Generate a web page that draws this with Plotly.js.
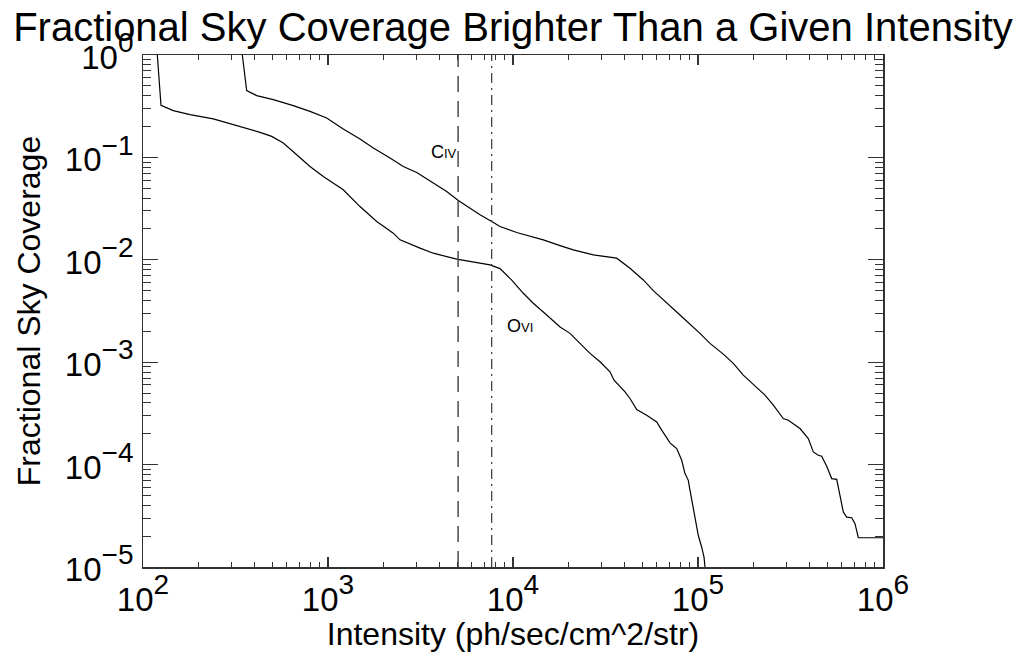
<!DOCTYPE html>
<html>
<head>
<meta charset="utf-8">
<script src="https://cdn.plot.ly/plotly-3.0.1.min.js"></script>
<style>
  html, body { margin: 0; padding: 0; background: #fff; }
  #chart { width: 1027px; height: 652px; }
</style>
</head>
<body>
<div id="chart"></div>
<script>
// Cumulative sky coverage brighter than a given line intensity

// Fainter curve
const lowerIntensity = [119.5, 125.1, 145.8, 179.6, 239.9, 295.3, 363.5, 429, 496.3, 573.4,
  677.4, 799.2, 943.3, 1209, 1489, 1834, 2254, 2451, 3143, 3709,
  4963, 6365, 7513, 8507, 9817, 11370, 12870, 15210, 17960, 20330,
  23030, 26080, 29530, 33440, 35160, 40320, 42890, 46630, 52800, 59810,
  63640, 70590, 76710, 81650, 85050, 88620, 90550, 96340, 100400, 104700,
  107800, 109100];
const lowerCoverage = [1.0, 0.3228, 0.2863, 0.2617, 0.2375, 0.2137, 0.1896, 0.1757, 0.1605, 0.1383,
  0.1063, 0.0816, 0.0652, 0.0483, 0.0331, 0.02364, 0.01821, 0.01566, 0.01299, 0.0116,
  0.01014, 0.00939, 0.00892, 0.0082, 0.00636, 0.00471, 0.003761, 0.002889, 0.00221, 0.001913,
  0.001527, 0.00122, 0.001009, 0.000805, 0.000668, 0.000513, 0.000442, 0.000345, 0.000304, 0.000261,
  0.000217, 0.000163, 0.0001434, 0.0001102, 8.16e-5, 7.02e-5, 5.6e-5, 3.07e-5, 2.03e-5, 1.56e-5,
  1.25e-5, 1.0e-5];

// Brighter curve
const upperIntensity = [344.2, 363.5, 411.7, 506.1, 649.2, 799.2, 984, 1209, 1489, 1758,
  2163, 2553, 3017, 3709, 4381, 5062, 5855, 6631, 7672, 8507,
  10470, 14580, 17960, 21180, 27170, 36350, 42890, 50620, 57330, 67740,
  79920, 102500, 116100, 137000, 155200, 175700, 207700, 230200, 255400, 289100,
  307700, 355900, 394700, 420100, 447000, 466300, 496300, 528100, 562000, 585700,
  610200, 636600, 677300, 705800, 735500, 1000000];
const upperCoverage = [1.0, 0.4496, 0.4017, 0.367, 0.3206, 0.2818, 0.2429, 0.1896, 0.1514, 0.1236,
  0.0987, 0.0816, 0.0713, 0.0562, 0.0465, 0.038, 0.032, 0.0275, 0.02364, 0.02113,
  0.01846, 0.01566, 0.01377, 0.0125, 0.01117, 0.01037, 0.00828, 0.00636, 0.004995, 0.003761,
  0.002889, 0.001913, 0.001527, 0.0012, 0.000973, 0.000748, 0.000574, 0.000477, 0.00038, 0.000282,
  0.000271, 0.000225, 0.0001796, 0.0001328, 0.0001233, 0.0001206, 9.62e-5, 7.3e-5, 7.18e-5, 4.82e-5,
  3.44e-5, 3.07e-5, 3.03e-5, 2.65e-5, 1.93e-5, 1.93e-5];

// Reference line intensities
const civIntensity = 5050;
const oviIntensity = 7670;

// Axis ranges and tick labels
const xRange = [1e2, 1e6];
const yRange = [1e-5, 1];
const xTickVals = [1e2, 1e3, 1e4, 1e5, 1e6];
const xTickExp = ['2', '3', '4', '5', '6'];
const yTickVals = [1e-5, 1e-4, 1e-3, 1e-2, 1e-1, 1];
const yTickExp = ['\u22125', '\u22124', '\u22123', '\u22122', '\u22121', '0'];

// Label anchor positions (intensity, coverage)
const civLabelAt = [3515, 0.1137];
const oviLabelAt = [9057, 0.00226];

const FONT = 'Liberation Sans, Arial, Helvetica, sans-serif';
const AXIS_COLOR = '#333';
// base tick font sets the superscript size (70%); the mantissa is sized explicitly
const TICK_SIZE = 40;
const BASE_SIZE = 33;

function powerLabel(exp) {
  return '<span style="font-size:' + BASE_SIZE + 'px">10</span><sup>' + exp + '</sup>';
}

const traces = [
  { x: lowerIntensity, y: lowerCoverage, mode: 'lines', line: { color: '#000', width: 1.2 }, hoverinfo: 'skip' },
  { x: upperIntensity, y: upperCoverage, mode: 'lines', line: { color: '#000', width: 1.2 }, hoverinfo: 'skip' },
  { x: [civIntensity, civIntensity], y: yRange, mode: 'lines',
    line: { color: '#555', width: 1.6, dash: '16px,9px' }, hoverinfo: 'skip' },
  { x: [oviIntensity, oviIntensity], y: yRange, mode: 'lines',
    line: { color: '#333', width: 1.2, dash: '10px,5px,2px,5px' }, hoverinfo: 'skip' }
];

function axisBase(len) {
  return {
    type: 'log',
    showgrid: false,
    zeroline: false,
    showline: true,
    linecolor: AXIS_COLOR,
    linewidth: 1.5,
    mirror: 'allticks',
    ticks: 'inside',
    ticklen: len,
    tickwidth: 1.2,
    tickcolor: AXIS_COLOR,
    tickmode: 'array',
    tickfont: { family: FONT, size: TICK_SIZE, color: '#000' },
    minor: { ticks: 'inside', ticklen: Math.round(len / 2), tickwidth: 1, tickcolor: AXIS_COLOR, dtick: 'D1', showgrid: false }
  };
}

const xaxis = Object.assign(axisBase(10), {
  range: xRange.map(Math.log10),
  tickvals: xTickVals,
  ticktext: xTickExp.map(powerLabel),
  ticklabelstandoff: -6,
  title: { text: 'Intensity (ph/sec/cm^2/str)', font: { family: FONT, size: 32, color: '#000' }, standoff: 2 }
});

const yaxis = Object.assign(axisBase(15), {
  range: yRange.map(Math.log10),
  tickvals: yTickVals,
  ticktext: yTickExp.map(powerLabel),
  title: { text: 'Fractional Sky Coverage', font: { family: FONT, size: 32, color: '#000' }, standoff: 14 }
});

const layout = {
  width: 1027,
  height: 652,
  margin: { l: 143, r: 144, t: 55, b: 85 },
  paper_bgcolor: '#fff',
  plot_bgcolor: '#fff',
  showlegend: false,
  title: {
    text: 'Fractional Sky Coverage Brighter Than a Given Intensity',
    font: { family: FONT, size: 40, color: '#000' },
    x: 0.5, xref: 'paper', xanchor: 'center',
    y: 1 - 27 / 652, yref: 'container', yanchor: 'middle'
  },
  xaxis: xaxis,
  yaxis: yaxis,
  annotations: [
    { x: Math.log10(civLabelAt[0]), y: Math.log10(civLabelAt[1]), xref: 'x', yref: 'y',
      text: 'C<span style="font-size:13px">IV</span>', showarrow: false,
      xanchor: 'left', yanchor: 'middle', font: { family: FONT, size: 18, color: '#000' } },
    { x: Math.log10(oviLabelAt[0]), y: Math.log10(oviLabelAt[1]), xref: 'x', yref: 'y',
      text: 'O<span style="font-size:13px">VI</span>', showarrow: false,
      xanchor: 'left', yanchor: 'middle', font: { family: FONT, size: 18, color: '#000' } }
  ]
};

Plotly.newPlot('chart', traces, layout, { staticPlot: true, displayModeBar: false });
</script>
</body>
</html>
